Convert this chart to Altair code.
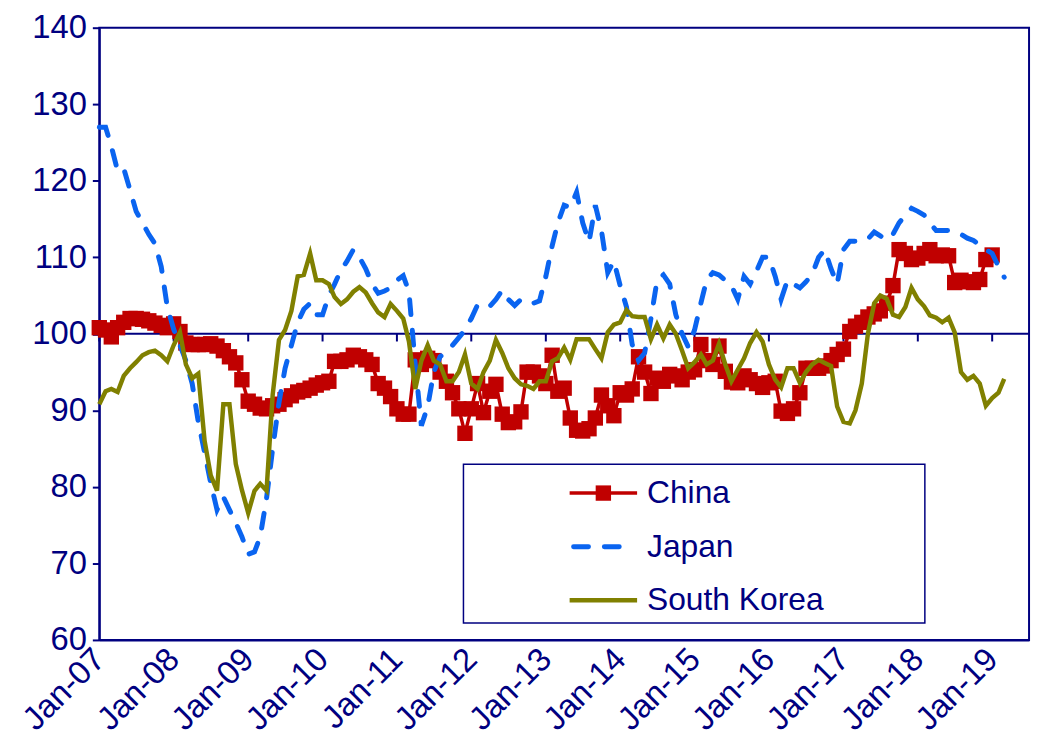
import altair as alt
import pandas as pd

NAVY = "#000080"
RED = "#C00000"
BLUE = "#0A64F0"
OLIVE = "#808000"
FONT = "Liberation Sans"

series_names = ["China", "Japan", "South Korea"]
years = [2007, 2008, 2009, 2010, 2011, 2012, 2013, 2014, 2015, 2016, 2017, 2018, 2019]
tick_labels = ["Jan-07", "Jan-08", "Jan-09", "Jan-10", "Jan-11", "Jan-12", "Jan-13",
               "Jan-14", "Jan-15", "Jan-16", "Jan-17", "Jan-18", "Jan-19"]
y_ticks = [60, 70, 80, 90, 100, 110, 120, 130, 140]

# monthly values from Jan-07
china = [100.8, 100.5, 99.6, 100.8, 101.5, 102, 102, 101.9, 101.7, 101.4,
         101.1, 100.8, 101.3, 100.3, 98.8, 98.6, 98.6, 98.6, 98.7, 98.4,
         97.8, 97, 96.2, 94, 91.2, 90.8, 90.3, 90.2, 90.6, 90.8,
         91.4, 91.9, 92.4, 92.6, 92.9, 93.3, 93.6, 93.8, 96.4, 96.4,
         96.6, 97.2, 97, 96.6, 96, 93.5, 92.9, 91.8, 90.2, 89.5,
         89.5, 96.6, 96, 96.8, 96.5, 95, 93.8, 92.3, 90.2, 87,
         90.2, 93.5, 89.7, 92.5, 93.4, 89.5, 88.4, 88.5, 89.8, 95,
         95, 94.5, 93.5, 97.2, 92.5, 92.9, 89, 87.4, 87.3, 87.6,
         89, 92, 90.6, 89.3, 92.3, 92, 92.8, 97, 95, 92.2,
         94.2, 93.8, 94.7, 94.5, 94, 95, 95.3, 98.6, 96.5, 96,
         98.4, 95.1, 93.7, 93.6, 94.5, 94, 93.5, 93, 93.6, 93.8,
         89.9, 89.6, 90.2, 92.3, 95.5, 95.5, 95.5, 95.8, 96.5, 97.3,
         98, 100.3, 101, 101.5, 102.2, 102.6, 103, 104, 106.3, 111,
         110.5, 109.7, 109.9, 110.5, 111, 110.2, 110.3, 110.2, 106.7, 107,
         106.8, 106.7, 107.1, 109.7, 110.3]

japan = [127, 127, 124.5, 121.3, 121.6, 118.8, 116, 114.5, 113, 111.8,
         108.8, 103.5, 100.6, 98.5, 96.5, 93.5, 88.5, 84.5, 80.5, 77,
         78.7, 77, 75.3, 73.5, 71.2, 71.5, 73.5, 78.5, 85, 91,
         95.5, 98.5, 101.5, 103.2, 104, 102.5, 102.5, 105, 106.5, 108.3,
         109.5, 111, 110, 108.5, 106.5, 105.3, 105.6, 106, 107, 107.6,
         105.5, 96, 88, 90.5, 95, 97, 97.8, 98.5, 99.5, 100.5,
         102, 103.8, 103.8, 103.6, 104.5, 105.7, 104.5, 103.7, 104.5, 104.1,
         104, 104.3, 107.5, 111.5, 114.5, 116.8, 116.5, 118.5, 114.5, 112,
         116.8, 113.5, 108, 109.5, 106.3, 103.5, 98.6, 96.5, 97.5, 102,
         107, 107.7, 106.5, 102.5, 100, 98.3, 100.5, 104, 107, 108,
         107.7, 107, 106.3, 104.5, 107.5, 106.5, 108.2, 110, 110, 107.5,
         104.5, 107, 106.5, 106, 106.8, 107.8, 110, 111, 108.5, 106.5,
         111, 112.1, 112.1, 112.1, 112.4, 113.3, 112.8, 112.3, 113, 114.5,
         115.5, 116.4, 116, 115.5, 114.5, 113.5, 113.5, 113.5, 113.4, 113,
         112.5, 112.2, 111.6, 111, 110.5, 108.8, 107.4]

south_korea = [90.8, 92.5, 92.8, 92.4, 94.5, 95.5, 96.3, 97.2, 97.6, 97.8,
               97.2, 96.4, 98.5, 100.2, 96, 94.2, 94.8, 86, 81.5, 79.5,
               90.8, 90.8, 83, 79.6, 76.6, 79.5, 80.4, 79.5, 92, 99.2,
               100.5, 103, 107.5, 107.7, 110.5, 107, 107, 106.5, 104.8, 103.9,
               104.5, 105.5, 106.1, 105.4, 104, 102.8, 102.2, 103.9, 103, 102,
               99, 92.8, 96.5, 98.5, 96.5, 96, 93.8, 93.8, 95, 97.3,
               93.5, 92.8, 95, 96.5, 99.2, 97.5, 95.5, 94.2, 93.4, 93.2,
               92.8, 93.8, 93.8, 96.4, 96.8, 98.2, 96.6, 99.3, 99.3, 99.3,
               98, 96.8, 100.2, 101.2, 101.5, 103.1, 102.3, 102.2, 102.2, 99.3,
               101.2, 99.4, 101.2, 100, 97.8, 95.5, 96.3, 97.3, 96, 96.5,
               98.7, 96, 93.8, 95.3, 96.8, 98.8, 100.2, 99, 96, 94,
               93, 95.5, 95.5, 93.6, 95, 96, 96.6, 96.2, 95.8, 90.5,
               88.5, 88.3, 90, 93.5, 100, 104, 105, 104.6, 102.5, 102.2,
               103.5, 106, 104.5, 103.6, 102.4, 102.1, 101.5, 102.1, 100.2, 95,
               94, 94.5, 93.5, 90.6, 91.6, 92.3, 94.1]


def series_frame(name, values):
    dates = pd.date_range("2007-01-01", periods=len(values), freq="MS").strftime("%Y-%m-%d")
    return pd.DataFrame({"date": list(dates), "series": name, "value": values})


df_china = series_frame(series_names[0], china)
df_japan = series_frame(series_names[1], japan)
df_korea = series_frame(series_names[2], south_korea)
tick_df = pd.DataFrame({"date": [f"{y}-01-01" for y in years], "label": tick_labels})

x_scale = alt.Scale(type="utc", domain=[alt.DateTime(year=2007, month=1, date=1, utc=True),
                                        alt.DateTime(year=2019, month=7, date=1, utc=True)])
y_scale = alt.Scale(domain=[60, 140], nice=False, zero=False)

label_expr = f"{tick_labels}[utcyear(datum.value) - {years[0]}]"

x_axis = alt.Axis(values=[alt.DateTime(year=y, month=1, date=1, utc=True) for y in years],
                  labelExpr=label_expr, labelAngle=-45, labelAlign="right",
                  labelBaseline="middle", labelPadding=14, ticks=False, tickSize=0,
                  grid=False, title=None, labelOverlap=False, labelFlush=False,
                  labelBound=False)
y_axis = alt.Axis(values=y_ticks, grid=False, title=None, tickSize=7, labelPadding=6,
                  labelOverlap=False, labelFlush=False)

X = alt.X("date:T", scale=x_scale, axis=x_axis)
Y = alt.Y("value:Q", scale=y_scale, axis=y_axis)

hundred = alt.Chart(pd.DataFrame({"value": [100]})).mark_rule(
    color=NAVY, strokeWidth=2).encode(y=Y)

year_ticks = alt.Chart(tick_df).mark_rule(color=NAVY, strokeWidth=2).encode(
    x=X, y=alt.datum(100), y2=alt.datum(99))

china_line = alt.Chart(df_china).mark_line(color=RED, strokeWidth=3.5).encode(x=X, y=Y)
china_pts = alt.Chart(df_china).mark_point(shape="square", filled=True, size=240,
                                           color=RED, opacity=1).encode(x=X, y=Y)
japan_line = alt.Chart(df_japan).mark_line(color=BLUE, strokeWidth=5, strokeDash=[15, 16],
                                           strokeCap="round").encode(x=X, y=Y)
korea_line = alt.Chart(df_korea).mark_line(color=OLIVE, strokeWidth=4.5).encode(x=X, y=Y)

one = pd.DataFrame({"k": [0]})
legend_box = alt.Chart(one).mark_rect(fill="white", stroke=NAVY, strokeWidth=1.5).encode(
    x=alt.value(367), x2=alt.value(832), y=alt.value(440), y2=alt.value(600))

leg_y = [469, 523, 577]
leg_china_line = alt.Chart(one).mark_rule(color=RED, strokeWidth=3.5).encode(
    x=alt.value(474), x2=alt.value(542), y=alt.value(leg_y[0]))
leg_china_pt = alt.Chart(one).mark_point(shape="square", filled=True, size=240, color=RED,
                                         opacity=1).encode(x=alt.value(508), y=alt.value(leg_y[0]))
leg_japan_line = alt.Chart(one).mark_rule(color=BLUE, strokeWidth=5, strokeDash=[15, 16],
                                          strokeCap="round").encode(
    x=alt.value(478), x2=alt.value(540), y=alt.value(leg_y[1]))
leg_korea_line = alt.Chart(one).mark_rule(color=OLIVE, strokeWidth=4.5).encode(
    x=alt.value(474), x2=alt.value(542), y=alt.value(leg_y[2]))

leg_texts = []
for name, yy in zip(series_names, leg_y):
    leg_texts.append(
        alt.Chart(pd.DataFrame({"label": [name]})).mark_text(
            align="left", baseline="middle", fontSize=32, font=FONT, color=NAVY
        ).encode(x=alt.value(552), y=alt.value(yy), text="label:N")
    )

chart = alt.layer(
    hundred, year_ticks, china_line, china_pts, japan_line, korea_line,
    legend_box, leg_china_line, leg_china_pt, leg_japan_line, leg_korea_line, *leg_texts
).properties(
    width=937, height=617,
    padding={"left": 92, "top": 17, "right": 6, "bottom": 100},
    autosize=alt.AutoSizeParams(type="none"),
    background="white",
).configure_view(
    stroke=NAVY, strokeWidth=2
).configure_axis(
    labelFont=FONT, labelFontSize=33, labelColor=NAVY,
    domainColor=NAVY, domainWidth=2, tickColor=NAVY, tickWidth=2
)

chart.save("out.html", embed_options={"renderer": "svg", "actions": False})
